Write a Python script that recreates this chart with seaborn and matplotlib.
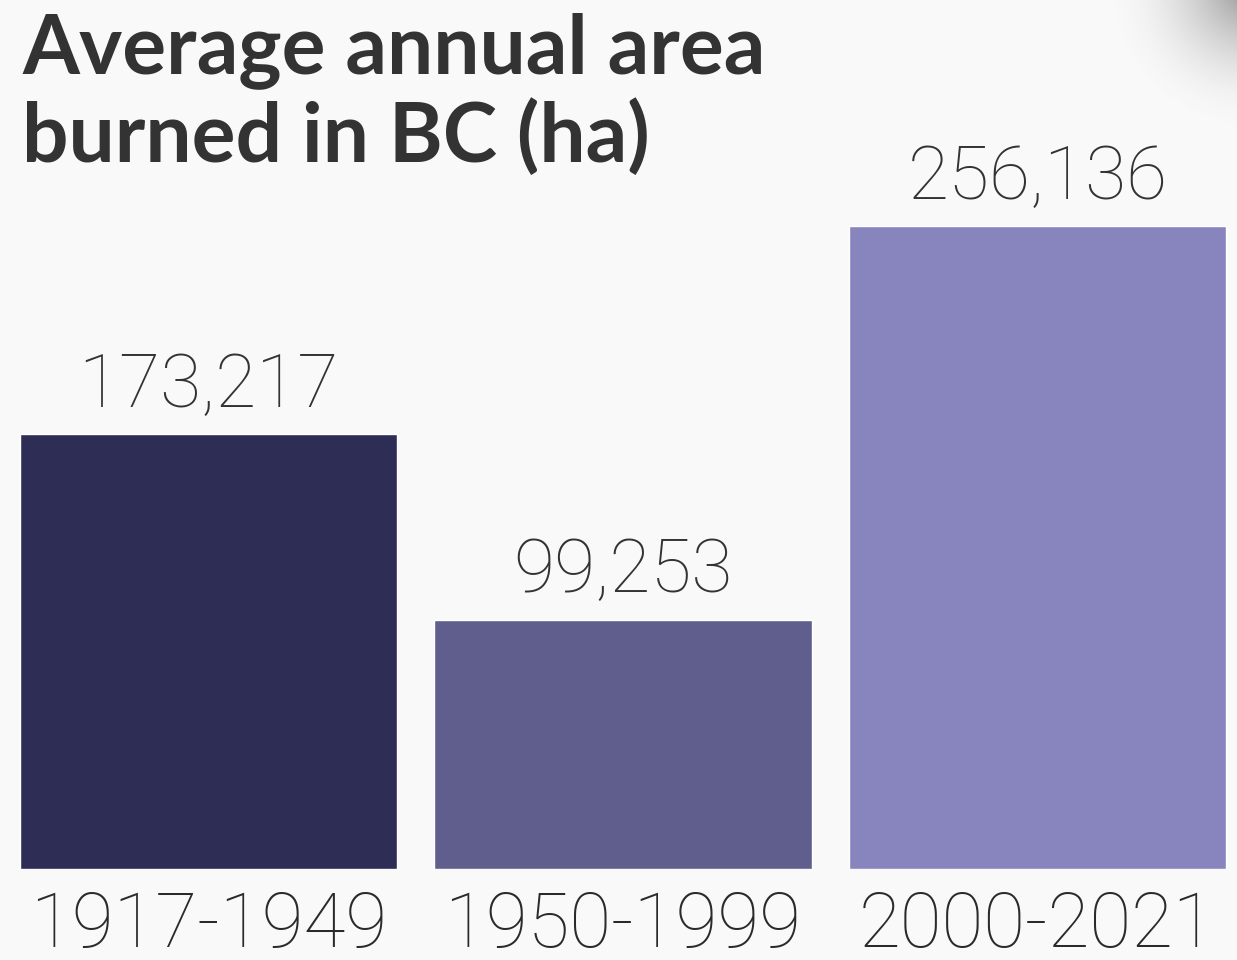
import matplotlib
matplotlib.use("Agg")
import matplotlib.pyplot as plt
import seaborn as sns
import pandas as pd
import numpy as np

# ── Data ───────────────────────────────────────────────────────────────────
periods = ["1917-1949", "1950-1999", "2000-2021"]
area_burned = [173217, 99253, 256136]
bar_colors = ["#2e2d55", "#5f5e8c", "#8784be"]

df = pd.DataFrame({"period": periods, "area": area_burned})

sns.set_theme(style="white")
plt.rcParams["font.family"] = ["Lato", "DejaVu Sans"]

fig = plt.figure(figsize=(12.37, 9.6), dpi=100)
fig.patch.set_facecolor("#f9f9f9")

# soft shadow in the top-right corner
yy, xx = np.mgrid[0:140, 0:160]
dist = np.hypot(xx - 175, yy + 15)
shade = np.clip(1 - dist / 150, 0, 1) ** 2
rgba = np.zeros((140, 160, 4))
rgba[..., :3] = 0.45
rgba[..., 3] = shade * 0.8
fig.figimage(rgba, xo=1237 - 160, yo=960 - 140, origin="upper", zorder=0)

# axes spans from bar baseline (y=869px) up to top of figure
ax = fig.add_axes([0, 1 - 869 / 960, 1, 869 / 960])
ax.set_facecolor("none")

sns.barplot(data=df, x="period", y="area", hue="period", palette=bar_colors,
            width=0.91, legend=False, ax=ax, saturation=1)

# bars from 20px to 1226px
left, right = -0.455, 2.455
px_per_unit = (1226 - 20) / (right - left)
ax.set_xlim(left - 20 / px_per_unit, right + (1237 - 1226) / px_per_unit)
ax.set_ylim(0, 256136 * 869 / 643)

for p, v in zip(ax.patches, area_burned):
    ax.annotate(f"{v:,}", (p.get_x() + p.get_width() / 2, p.get_height()),
                xytext=(0, 9), textcoords="offset points", ha="center", va="bottom",
                fontsize=54, fontweight="light", color="#333333",
                family=["Roboto", "DejaVu Sans"])

ax.set_xlabel("")
ax.set_ylabel("")
ax.set_yticks([])
ax.set_xticks(range(len(periods)))
ax.set_xticklabels(periods, fontsize=55, color="#2a2a2a", fontweight="light",
                   family=["Roboto", "DejaVu Sans"])
ax.tick_params(axis="x", length=0, pad=15)
sns.despine(ax=ax, left=True, bottom=True)

fig.text(22 / 1237, 1 - 12 / 960, "Average annual area\nburned in BC (ha)",
         ha="left", va="top", fontsize=59, fontweight="bold", color="#333333",
         linespacing=1.15)

fig.savefig("out.png", dpi=100, facecolor=fig.get_facecolor())
